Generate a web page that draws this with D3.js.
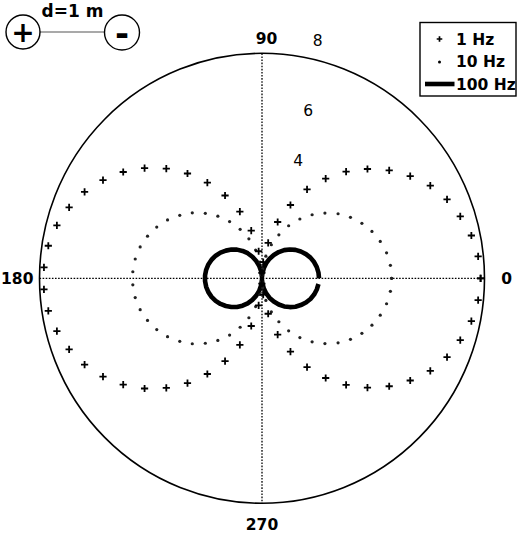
<!DOCTYPE html>
<html>
<head>
<meta charset="utf-8">
<script src="https://cdn.jsdelivr.net/npm/d3@7"></script>
<style>
  body { margin: 0; background: #fff; }
  text { font-family: "DejaVu Sans", sans-serif; fill: #000; }
</style>
</head>
<body>
<div id="chart"></div>
<script>
// Polar radiation pattern of a dipole at three frequencies //
const width = 520;
const height = 533;

// angles in degrees (64 samples, 0..360)
const angleDeg = [0, 5.71, 11.43, 17.14, 22.86, 28.57, 34.29, 40, 45.71, 51.43, 57.14, 62.86,
  68.57, 74.29, 80, 85.71, 91.43, 97.14, 102.86, 108.57, 114.29, 120, 125.71, 131.43,
  137.14, 142.86, 148.57, 154.29, 160, 165.71, 171.43, 177.14, 182.86, 188.57, 194.29,
  200, 205.71, 211.43, 217.14, 222.86, 228.57, 234.29, 240, 245.71, 251.43, 257.14,
  262.86, 268.57, 274.29, 280, 285.71, 291.43, 297.14, 302.86, 308.57, 314.29, 320,
  325.71, 331.43, 337.14, 342.86, 348.57, 354.29, 360];

const hz1 = [7.86, 7.81, 7.68, 7.46, 7.22, 6.89, 6.45, 5.97, 5.43, 4.85, 4.22, 3.55, 2.80, 2.08,
  1.28, 0.58, 0.19, 0.97, 1.74, 2.50, 3.23, 3.93, 4.59, 5.20, 5.76, 6.26, 6.70, 7.08, 7.38,
  7.61, 7.77, 7.85, 7.85, 7.77, 7.61, 7.38, 7.08, 6.70, 6.26, 5.76, 5.20, 4.59, 3.93, 3.23,
  2.50, 1.74, 0.97, 0.19, 0.58, 1.28, 2.08, 2.80, 3.55, 4.22, 4.85, 5.43, 5.97, 6.45, 6.89,
  7.22, 7.46, 7.68, 7.81, 7.86];

const hz10 = [4.66, 4.64, 4.57, 4.45, 4.29, 4.09, 3.85, 3.57, 3.24, 2.89, 2.51, 2.10, 1.66, 1.24,
  0.80, 0.34, 0.11, 0.58, 1.03, 1.48, 1.91, 2.33, 2.72, 3.08, 3.42, 3.71, 3.98, 4.20, 4.38,
  4.52, 4.61, 4.65, 4.65, 4.61, 4.52, 4.38, 4.20, 3.98, 3.71, 3.42, 3.08, 2.72, 2.33, 1.91,
  1.48, 1.03, 0.58, 0.11, 0.34, 0.80, 1.24, 1.66, 2.10, 2.51, 2.89, 3.24, 3.57, 3.85, 4.09,
  4.29, 4.45, 4.57, 4.64, 4.66];

// last sample missing in the 100 Hz trace
const hz100 = [2.05, 2.04, 2.01, 1.96, 1.89, 1.80, 1.69, 1.57, 1.43, 1.28, 1.11, 0.93, 0.75, 0.56,
  0.36, 0.15, 0.05, 0.25, 0.46, 0.65, 0.84, 1.03, 1.20, 1.36, 1.50, 1.63, 1.75, 1.85, 1.93,
  1.99, 2.03, 2.05, 2.05, 2.03, 1.99, 1.93, 1.85, 1.75, 1.63, 1.50, 1.36, 1.20, 1.03, 0.84,
  0.65, 0.46, 0.25, 0.05, 0.15, 0.36, 0.56, 0.75, 0.93, 1.11, 1.28, 1.43, 1.57, 1.69, 1.80,
  1.89, 1.96, 2.01, 2.04];

const angleTicks = [0, 90, 180, 270];
const radialTicks = [4, 6, 8];
const legendLabels = ["1 Hz", "10 Hz", "100 Hz"];
const rMax = 8;

const svg = d3.select("#chart")
  .append("svg")
  .attr("width", width)
  .attr("height", height);

// cartesian scales for the polar axes
const x = d3.scaleLinear().domain([-rMax, rMax]).range([39.5, 484.5]);
const y = d3.scaleLinear().domain([-rMax, rMax]).range([503.3, 53.3]);

const toXY = (r, deg) => {
  const a = deg * Math.PI / 180;
  return [x(r * Math.cos(a)), y(r * Math.sin(a))];
};

// outer circle
svg.append("ellipse")
  .attr("cx", x(0))
  .attr("cy", y(0))
  .attr("rx", x(rMax) - x(0))
  .attr("ry", y(0) - y(rMax))
  .attr("fill", "none")
  .attr("stroke", "#000")
  .attr("stroke-width", 1.6);

// dotted spokes
svg.append("line")
  .attr("x1", x(-rMax)).attr("x2", x(rMax))
  .attr("y1", y(0)).attr("y2", y(0))
  .attr("stroke", "#000")
  .attr("stroke-width", 1.3)
  .attr("stroke-dasharray", "1.6,1.5");

svg.append("line")
  .attr("x1", x(0)).attr("x2", x(0))
  .attr("y1", y(rMax)).attr("y2", y(-rMax))
  .attr("stroke", "#000")
  .attr("stroke-width", 1.3)
  .attr("stroke-dasharray", "1.6,1.5");

// angle labels
svg.selectAll(".angle-label")
  .data(angleTicks)
  .enter()
  .append("text")
  .attr("class", "angle-label")
  .attr("x", d => toXY(rMax * 1.1, d)[0] + (d === 90 ? 4.5 : 0))
  .attr("y", d => toXY(rMax * 1.1, d)[1] + (d === 90 ? 8 : d === 270 ? -1.5 : 0))
  .attr("dy", "0.36em")
  .attr("text-anchor", "middle")
  .style("font-size", "15.5px")
  .style("font-weight", "bold")
  .text(d => d);

// radial labels (placed off the spokes, spreading outward)
const labelR = d3.scalePow().exponent(2).domain([4, 8]).range([4.4, 8.7]);
const labelA = d3.scalePow().exponent(2).domain([4, 8]).range([72.8, 76.7]);

svg.selectAll(".radial-label")
  .data(radialTicks)
  .enter()
  .append("text")
  .attr("class", "radial-label")
  .attr("x", d => toXY(labelR(d), labelA(d))[0])
  .attr("y", d => toXY(labelR(d), labelA(d))[1])
  .attr("dy", "0.36em")
  .attr("text-anchor", "middle")
  .style("font-size", "15.5px")
  .text(d => d);

// 100 Hz thick line (open path)
const line100 = d3.line()
  .x((d, i) => toXY(d, angleDeg[i])[0])
  .y((d, i) => toXY(d, angleDeg[i])[1]);

svg.append("path")
  .datum(hz100)
  .attr("d", line100)
  .attr("fill", "none")
  .attr("stroke", "#000")
  .attr("stroke-width", 4.6)
  .attr("stroke-linejoin", "round");

// 10 Hz dots
svg.selectAll(".dot10")
  .data(hz10)
  .enter()
  .append("circle")
  .attr("class", "dot10")
  .attr("cx", (d, i) => toXY(d, angleDeg[i])[0])
  .attr("cy", (d, i) => toXY(d, angleDeg[i])[1])
  .attr("r", 1.6)
  .attr("fill", "#222");

// 1 Hz plus markers
svg.selectAll(".plus1")
  .data(hz1)
  .enter()
  .append("path")
  .attr("class", "plus1")
  .attr("transform", (d, i) => `translate(${toXY(d, angleDeg[i])})`)
  .attr("d", "M-3.6,0H3.6M0,-3.6V3.6")
  .attr("stroke", "#000")
  .attr("stroke-width", 1.8);

// legend
const legend = svg.append("g");
legend.append("rect")
  .attr("x", 420)
  .attr("y", 22.5)
  .attr("width", 96)
  .attr("height", 73.5)
  .attr("fill", "#fff")
  .attr("stroke", "#000")
  .attr("stroke-width", 1.4);

const legendY = d3.scalePoint().domain(legendLabels).range([39, 84]);

legend.append("path")
  .attr("transform", `translate(439.5,${legendY("1 Hz")})`)
  .attr("d", "M-2.8,0H2.8M0,-2.8V2.8")
  .attr("stroke", "#000")
  .attr("stroke-width", 1.7);

legend.append("circle")
  .attr("cx", 439.5)
  .attr("cy", legendY("10 Hz") + 0.5)
  .attr("r", 1.5)
  .attr("fill", "#000");

legend.append("line")
  .attr("x1", 425).attr("x2", 454.5)
  .attr("y1", legendY("100 Hz")).attr("y2", legendY("100 Hz"))
  .attr("stroke", "#000")
  .attr("stroke-width", 4.6);

legend.selectAll(".legend-text")
  .data(legendLabels)
  .enter()
  .append("text")
  .attr("class", "legend-text")
  .attr("x", 456)
  .attr("y", d => legendY(d))
  .attr("dy", "0.36em")
  .style("font-size", "15.5px")
  .style("font-weight", "bold")
  .text(d => d);

// dipole sketch top-left
const dipole = svg.append("g");
dipole.append("line")
  .attr("x1", 40).attr("x2", 104.5)
  .attr("y1", 32).attr("y2", 32)
  .attr("stroke", "#555")
  .attr("stroke-width", 1.2);

dipole.append("circle")
  .attr("cx", 23).attr("cy", 32).attr("r", 17)
  .attr("fill", "none").attr("stroke", "#000").attr("stroke-width", 1.4);

dipole.append("circle")
  .attr("cx", 122).attr("cy", 32.5).attr("r", 17.5)
  .attr("fill", "none").attr("stroke", "#000").attr("stroke-width", 1.4);

dipole.append("text")
  .attr("x", 23).attr("y", 32)
  .attr("dy", "0.36em")
  .attr("text-anchor", "middle")
  .style("font-size", "28px")
  .style("font-weight", "bold")
  .text("+");

dipole.append("text")
  .attr("x", 122).attr("y", 32.5)
  .attr("dy", "0.36em")
  .attr("text-anchor", "middle")
  .style("font-size", "34px")
  .style("font-weight", "bold")
  .text("-");

dipole.append("text")
  .attr("x", 41.5)
  .attr("y", 16.5)
  .style("font-size", "17px")
  .style("font-weight", "bold")
  .text("d=1 m");
</script>
</body>
</html>
